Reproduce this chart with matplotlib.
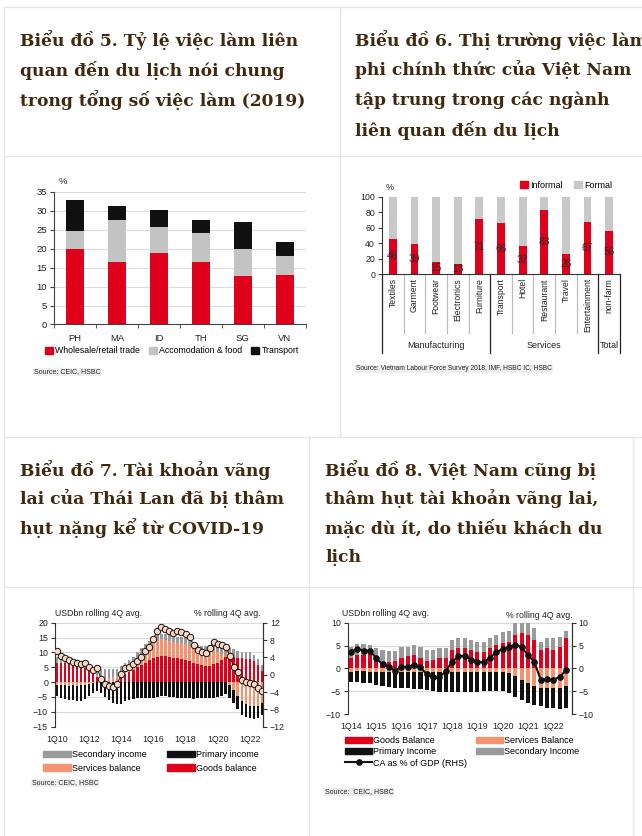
import numpy as np
import matplotlib.pyplot as plt
from matplotlib.lines import Line2D
from matplotlib.patches import Patch

W, H = 642, 836


def fx(x):
    return x / W


def fy(y):
    return 1 - y / H


def box(x0, y0, x1, y1):
    return [fx(x0), fy(y1), (x1 - x0) / W, (y1 - y0) / H]


# Biểu đồ 5
countries = ['PH', 'MA', 'ID', 'TH', 'SG', 'VN']
trade = [20.0, 16.6, 18.9, 16.4, 12.8, 13.2]
accom = [4.8, 10.9, 6.9, 7.7, 7.1, 5.0]
transport = [8.0, 3.7, 4.4, 3.5, 7.1, 3.7]

# Biểu đồ 6
sectors = ['Textiles', 'Garment', 'Footwear', 'Electronics', 'Furniture', 'Transport',
           'Hotel', 'Restaurant', 'Travel', 'Entertainment', 'non-farm']
informal = [46, 39, 15, 13, 71, 66, 37, 83, 26, 67, 56]
formal = [54, 61, 85, 87, 29, 34, 63, 17, 74, 33, 44]
groups = [('Manufacturing', 0, 4), ('Services', 5, 9), ('Total', 10, 10)]

# Biểu đồ 7 - Thái Lan, 1Q10..4Q22
th_ticks = ['1Q10', '1Q12', '1Q14', '1Q16', '1Q18', '1Q20', '1Q22']
th_goods = [6.5, 6.5, 6.3, 6.2, 6.0, 5.8, 5.2, 4.6, 3.6, 2.8, 1.6, 0.8,
            0.2, 0.1, 0.2, 0.4, 1.8, 2.6, 3.3, 4.0, 5.0, 5.8, 6.6, 7.4,
            8.2, 8.6, 8.8, 8.7, 8.5, 8.2, 8.0, 7.9, 7.6, 7.0, 6.4, 6.0,
            5.6, 5.3, 5.5, 6.0, 6.6, 7.6, 8.6, 9.0, 8.6, 8.2, 8.0, 7.9,
            7.8, 7.0, 5.6, 3.8]
th_services = [-0.8, -1.0, -1.0, -1.2, -1.0, -1.2, -1.0, -0.8, -0.6, -0.2, 0.3, 0.8,
               1.2, 1.4, 1.5, 1.5, 1.2, 1.5, 2.0, 2.6, 3.2, 3.8, 4.3, 4.8,
               5.3, 5.6, 5.6, 5.5, 5.3, 5.2, 5.3, 5.4, 5.4, 5.2, 5.0, 4.8,
               4.8, 4.9, 5.0, 4.7, 3.5, 2.0, 0.5, -1.0, -2.5, -4.5, -6.5, -7.5,
               -8.0, -8.2, -8.0, -7.0]
th_primary = [-4.0, -4.3, -4.6, -4.8, -5.0, -5.2, -5.3, -5.0, -4.0, -3.4, -3.0, -3.5,
              -5.0, -6.0, -7.0, -7.5, -7.2, -6.5, -6.0, -5.8, -5.4, -5.3, -5.2, -5.2,
              -5.2, -5.0, -4.8, -4.8, -5.0, -5.0, -5.2, -5.2, -5.3, -5.5, -5.6, -5.5,
              -5.4, -5.4, -5.3, -5.2, -5.0, -4.6, -4.0, -4.2, -4.5, -4.6, -4.5, -4.3,
              -4.2, -4.1, -4.2, -4.0]
th_secondary = [1.8, 1.6, 1.5, 1.5, 1.6, 1.7, 1.8, 2.0, 2.2, 2.4, 2.6, 2.8,
                3.0, 3.0, 2.8, 2.6, 2.4, 2.2, 2.0, 2.0, 1.9, 1.8, 1.8, 1.8,
                1.8, 1.8, 1.9, 1.9, 1.9, 1.9, 1.9, 1.8, 1.7, 1.6, 1.6, 1.6,
                1.7, 1.9, 2.0, 2.1, 2.2, 2.4, 2.5, 2.5, 2.4, 2.3, 2.3, 2.2,
                2.2, 2.2, 2.2, 2.0]
th_ca = [5.5, 4.4, 3.8, 3.4, 3.0, 2.7, 2.5, 2.6, 1.7, 1.2, 1.5, -1.0,
         -2.1, -2.7, -2.8, -2.1, 0.2, 1.6, 1.7, 2.4, 3.2, 4.1, 5.4, 6.5,
         8.3, 10.1, 10.9, 10.5, 10.1, 9.6, 10.0, 9.8, 9.3, 8.6, 6.9, 5.7,
         5.2, 4.9, 6.1, 7.6, 7.2, 6.9, 6.5, 4.4, 1.7, 0.7, -1.2, -1.6,
         -2.0, -2.2, -3.0, -3.8]

# Biểu đồ 8 - Việt Nam, 1Q14..3Q22
vn_ticks = ['1Q14', '1Q15', '1Q16', '1Q17', '1Q18', '1Q19', '1Q20', '1Q21', '1Q22']
vn_goods = [2.3, 2.9, 2.9, 3.1, 1.8, 1.5, 1.5, 1.6, 2.2, 2.6, 2.9, 2.2,
            1.7, 1.8, 2.2, 2.3, 4.0, 4.4, 4.4, 4.0, 3.6, 3.6, 4.4, 5.1,
            5.5, 5.8, 7.4, 7.7, 7.3, 6.2, 4.0, 4.4, 4.0, 4.7, 6.7]
vn_services = [-0.7, -0.6, -0.6, -0.7, -0.8, -0.8, -0.8, -0.8, -0.7, -0.7, -0.7, -0.8,
               -0.8, -0.8, -0.8, -0.8, -0.8, -0.8, -0.8, -0.8, -0.8, -0.9, -0.9, -0.9,
               -0.9, -1.0, -1.6, -2.6, -3.3, -3.8, -4.2, -4.3, -4.3, -4.2, -3.9]
vn_primary = [-2.2, -2.4, -2.5, -2.5, -2.8, -3.0, -3.2, -3.4, -3.6, -3.7, -3.8, -3.8,
              -4.0, -4.2, -4.3, -4.4, -4.4, -4.4, -4.3, -4.3, -4.3, -4.1, -4.1, -4.0,
              -4.1, -4.4, -4.6, -4.4, -4.3, -4.2, -4.1, -4.3, -4.4, -4.6, -4.8]
vn_secondary = [2.4, 2.4, 2.4, 2.0, 2.6, 2.5, 2.3, 2.2, 2.4, 2.1, 2.2, 2.5,
                2.3, 2.2, 2.3, 2.1, 2.2, 2.2, 2.3, 2.2, 2.2, 2.2, 2.2, 2.2,
                2.5, 2.4, 2.7, 2.4, 2.6, 2.6, 1.8, 2.2, 2.6, 2.2, 1.5]
vn_ca = [3.6, 4.3, 3.8, 3.9, 2.2, 0.9, 0.3, -0.5, 0.3, 0.4, 0.7, 0.2,
         -1.3, -2.0, -2.0, -0.6, 1.5, 2.6, 2.8, 1.9, 1.5, 1.3, 2.3, 3.6,
         4.2, 4.7, 5.2, 4.6, 2.9, 1.4, -2.5, -2.4, -2.5, -1.9, -0.4]

titles = [
    (20, [40, 70, 100], ['Biểu đồ 5. Tỷ lệ việc làm liên', 'quan đến du lịch nói chung',
                         'trong tổng số việc làm (2019)']),
    (355, [40, 70, 100, 130], ['Biểu đồ 6. Thị trường việc làm', 'phi chính thức của Việt Nam',
                               'tập trung trong các ngành', 'liên quan đến du lịch']),
    (20, [470, 499, 528], ['Biểu đồ 7. Tài khoản vãng', 'lai của Thái Lan đã bị thâm',
                           'hụt nặng kể từ COVID-19']),
    (325, [470, 499, 528, 557], ['Biểu đồ 8. Việt Nam cũng bị', 'thâm hụt tài khoản vãng lai,',
                                 'mặc dù ít, do thiếu khách du', 'lịch']),
]

RED = '#e0001b'
SALMON = '#f4946e'
GREY = '#9a9a9a'
BLACK = '#111111'
TXT = '#222222'

plt.rcParams['font.family'] = ['Liberation Sans', 'DejaVu Sans']

fig = plt.figure(figsize=(6.42, 8.36), dpi=100)

# table lines
grid_lines = [(4, 7, 642, 7), (4, 156, 642, 156), (4, 437, 642, 437), (4, 587, 642, 587),
              (4, 7, 4, 836), (339.5, 7, 339.5, 437), (308.5, 437, 308.5, 836), (633, 437, 633, 836)]
for x0, y0, x1, y1 in grid_lines:
    fig.add_artist(Line2D([fx(x0), fx(x1)], [fy(y0), fy(y1)], color='#e6e6e6', lw=1,
                          transform=fig.transFigure))

for x, ys, lines in titles:
    for y, s in zip(ys, lines):
        fig.text(fx(x), fy(y), s, fontsize=12.3, fontweight='bold', color='#40290f',
                 family='DejaVu Serif', va='center', ha='left')


def source(x, y, s, size=5):
    fig.text(fx(x), fy(y), s, fontsize=size, color=TXT, va='center',
             bbox=dict(facecolor='#eeeeee', edgecolor='none', pad=0.6))


# ---- chart 5
ax5 = fig.add_axes(box(54, 192, 306, 324.5))
x5 = np.arange(len(countries))
ax5.bar(x5, trade, 0.42, color=RED, zorder=2)
ax5.bar(x5, accom, 0.42, bottom=trade, color='#c3c3c3', zorder=2)
ax5.bar(x5, transport, 0.42, bottom=np.add(trade, accom), color=BLACK, zorder=2)
ax5.set_xlim(-0.5, 5.5)
ax5.set_ylim(0, 35)
ax5.set_yticks(range(0, 36, 5))
ax5.yaxis.grid(True, color='#dcdcdc', lw=0.8)
ax5.set_axisbelow(True)
ax5.set_xticks(x5)
ax5.set_xticklabels(countries)
ax5.set_xticks(np.arange(-0.5, 6, 1), minor=True)
ax5.tick_params(axis='x', which='major', length=0, pad=7, labelsize=6.8, colors=TXT)
ax5.tick_params(axis='x', which='minor', length=3, color='#444')
ax5.tick_params(axis='y', length=3, pad=2, labelsize=6.8, colors=TXT, color='#444')
for s in ['top', 'right']:
    ax5.spines[s].set_visible(False)
for s in ['left', 'bottom']:
    ax5.spines[s].set_color('#444')
fig.text(fx(59), fy(181), '%', fontsize=6.8, color=TXT, va='center')
ax5.legend(handles=[Patch(color=RED), Patch(color='#c3c3c3'), Patch(color=BLACK)],
           labels=['Wholesale/retail trade', 'Accomodation & food', 'Transport'],
           loc='center', bbox_to_anchor=(fx(172), fy(351)), bbox_transform=fig.transFigure,
           ncol=3, frameon=False, fontsize=6.3, handlelength=0.9, handleheight=0.9,
           handletextpad=0.3, columnspacing=1.0, borderpad=0)
source(34, 372, 'Source: CEIC, HSBC')

# ---- chart 6
ax6 = fig.add_axes(box(382, 197, 620, 274))
x6 = np.arange(len(sectors))
ax6.bar(x6, informal, 0.36, color=RED)
ax6.bar(x6, formal, 0.36, bottom=informal, color='#c8c8c8')
for i, v in enumerate(informal):
    ax6.text(i, v / 2, str(v), ha='center', va='center', fontsize=7.3, color='#2a2a2a', zorder=5)
ax6.set_xlim(-0.5, 10.5)
ax6.set_ylim(0, 100)
ax6.set_yticks(range(0, 101, 20))
ax6.set_xticks(x6)
ax6.set_xticklabels(sectors, rotation=90, va='top', ha='center')
ax6.tick_params(axis='x', length=0, pad=3, labelsize=6.2, colors=TXT)
ax6.tick_params(axis='y', length=3, pad=2, labelsize=6.3, colors=TXT, color='#444')
for s in ['top', 'right']:
    ax6.spines[s].set_visible(False)
for s in ['left', 'bottom']:
    ax6.spines[s].set_color('#333')
tr6 = ax6.get_xaxis_transform()
group_edges = [-0.5, 4.5, 9.5, 10.5]
for b in np.arange(0.5, 10, 1):
    if b not in group_edges:
        ax6.plot([b, b], [0, -0.77], transform=tr6, clip_on=False, color='#bdbdbd', lw=0.9)
for b in group_edges:
    ax6.plot([b, b], [0, -1.03], transform=tr6, clip_on=False, color='#222222', lw=0.9)
for name, a, b in groups:
    ax6.text((a + b) / 2, -0.935, name, transform=tr6, ha='center', va='center',
             fontsize=6.5, color=TXT)
fig.text(fx(386), fy(188), '%', fontsize=6.5, color=TXT, va='center')
ax6.legend(handles=[Patch(color=RED), Patch(color='#c8c8c8')], labels=['Informal', 'Formal'],
           loc='center', bbox_to_anchor=(fx(566), fy(185)), bbox_transform=fig.transFigure,
           ncol=2, frameon=False, fontsize=6.5, handlelength=0.9, handleheight=0.9,
           handletextpad=0.3, columnspacing=1.2, borderpad=0)
source(356, 369, 'Source: Vietnam Labour Force Survey 2018, IMF, HSBC IC, HSBC', 4.8)


# ---- current account charts
def ca_chart(ax, goods, services, primary, secondary, w):
    q = np.arange(len(goods))
    goods = np.array(goods)
    services = np.array(services)
    sv_pos = np.clip(services, 0, None)
    sv_neg = np.clip(services, None, 0)
    ax.bar(q, goods, w, color=RED, zorder=2)
    ax.bar(q, sv_pos, w, bottom=goods, color=SALMON, zorder=2)
    ax.bar(q, sv_neg, w, color=SALMON, zorder=2)
    ax.bar(q, secondary, w, bottom=goods + sv_pos, color=GREY, zorder=2)
    ax.bar(q, primary, w, bottom=sv_neg, color=BLACK, zorder=2)
    ax.yaxis.grid(True, color='#d9d9d9', lw=0.8)
    ax.set_axisbelow(True)
    for s in ['top', 'bottom']:
        ax.spines[s].set_visible(False)
    ax.spines['left'].set_color('#333')
    ax.tick_params(axis='x', length=0, pad=6, labelsize=6.3, colors=TXT)
    ax.tick_params(axis='y', length=3, pad=2, labelsize=6.3, colors=TXT, color='#333')
    return q


ax7 = fig.add_axes(box(55, 622.7, 263, 726.7))
q7 = ca_chart(ax7, th_goods, th_services, th_primary, th_secondary, 0.6)
ax7.set_xlim(-0.5, 51.3)
ax7.set_ylim(-15, 20)
ax7.set_yticks(range(-15, 21, 5))
ax7.set_xticks(np.arange(0, 52, 8))
ax7.set_xticklabels(th_ticks)
ax7r = ax7.twinx()
ax7r.plot(q7, th_ca, '-o', color='#222222', lw=0.8, ms=4.6, mfc='#f8d6c2', mec='#111111', mew=0.7)
ax7r.set_ylim(-12, 12)
ax7r.set_yticks(range(-12, 13, 4))
ax7r.tick_params(axis='y', length=3, pad=2, labelsize=6.3, colors=TXT, color='#333')
for s in ['top', 'bottom', 'left']:
    ax7r.spines[s].set_visible(False)
ax7r.spines['right'].set_color('#333')
fig.text(fx(55), fy(614), 'USDbn rolling 4Q avg.', fontsize=6.3, color=TXT, va='center')
fig.text(fx(260), fy(614), '% rolling 4Q avg.', fontsize=6.3, color=TXT, va='center', ha='right')
ax7.legend(handles=[Patch(color=GREY), Patch(color=SALMON), Patch(color=BLACK), Patch(color=RED)],
           labels=['Secondary income', 'Services balance', 'Primary income', 'Goods balance'],
           loc='upper left', bbox_to_anchor=(fx(43), fy(750)), bbox_transform=fig.transFigure,
           ncol=2, frameon=False, fontsize=6.5, handlelength=3.1, handleheight=0.7,
           handletextpad=0.15, columnspacing=2.2, labelspacing=0.5, borderpad=0, borderaxespad=0)
source(32, 783, 'Source: CEIC, HSBC')

ax8 = fig.add_axes(box(347.7, 622.7, 571.7, 714))
q8 = ca_chart(ax8, vn_goods, vn_services, vn_primary, vn_secondary, 0.65)
ax8.set_xlim(-0.5, 34.9)
ax8.set_ylim(-10, 10)
ax8.set_yticks(range(-10, 11, 5))
ax8.set_xticks(np.arange(0, 35, 4))
ax8.set_xticklabels(vn_ticks)
ax8r = ax8.twinx()
ax8r.plot(q8, vn_ca, '-o', color='#111111', lw=1.5, ms=3.8)
ax8r.set_ylim(-10, 10)
ax8r.set_yticks(range(-10, 11, 5))
ax8r.tick_params(axis='y', length=3, pad=2, labelsize=6.3, colors=TXT, color='#333')
for s in ['top', 'bottom', 'left']:
    ax8r.spines[s].set_visible(False)
ax8r.spines['right'].set_color('#333')
fig.text(fx(342), fy(614), 'USDbn rolling 4Q avg.', fontsize=6.3, color=TXT, va='center')
fig.text(fx(572), fy(616), '% rolling 4Q avg.', fontsize=6.3, color=TXT, va='center', ha='right')
ax8.legend(handles=[Patch(color=RED), Patch(color=BLACK),
                    Line2D([], [], color='#111111', lw=1.5, marker='o', ms=3.8),
                    Patch(color=SALMON), Patch(color=GREY)],
           labels=['Goods Balance', 'Primary Income', 'CA as % of GDP (RHS)',
                   'Services Balance', 'Secondary Income'],
           loc='upper left', bbox_to_anchor=(fx(345), fy(736)), bbox_transform=fig.transFigure,
           ncol=2, frameon=False, fontsize=6.5, handlelength=3.0, handleheight=0.7,
           handletextpad=0.15, columnspacing=0.9, labelspacing=0.25, borderpad=0, borderaxespad=0)
source(325, 792, 'Source:  CEIC, HSBC')

fig.savefig('out.png', dpi=100)
